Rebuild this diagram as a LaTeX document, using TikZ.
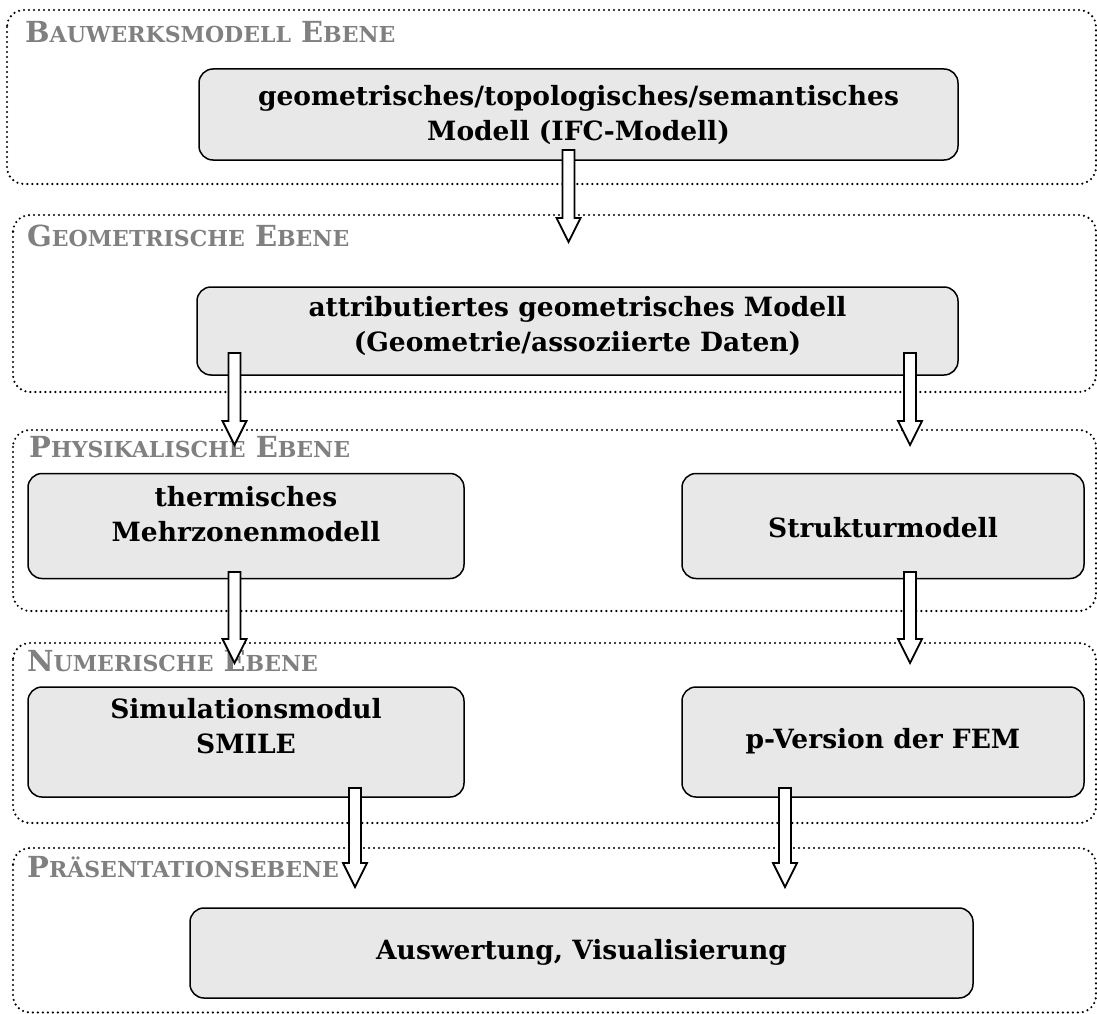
\documentclass[tikz,border=0pt]{standalone}
\usepackage{fontspec}
\setmainfont{DejaVu Serif}
\usetikzlibrary{calc}
\definecolor{boxfill}{HTML}{E8E8E8}
\definecolor{labelgray}{HTML}{808080}
\tikzset{
  layer/.style={draw, line width=2.4pt, dash pattern=on 0pt off 5pt, line cap=round, rounded corners=17pt},
  model/.style={draw, line width=1.5pt, fill=boxfill, rounded corners=14pt, inner sep=0pt},
  modeltext/.style={font=\fontsize{26.5}{35}\selectfont\bfseries, align=center, inner sep=0pt},
  layertitle/.style={font=\fontsize{29}{32}\selectfont\bfseries, text=labelgray, anchor=base west, inner sep=0pt},
  blockarrow/.style={draw, fill=white, line width=1.8pt, line join=miter},
}
% lower-size capitals for the layer titles
\newcommand{\lowcaps}[1]{{\fontsize{22}{24}\selectfont #1}}
% hollow block arrow from #1 (tail) down to #2 (tip)
\newcommand{\flowarrow}[2]{%
  \draw[blockarrow] let \p1=(#1), \p2=(#2) in
    (\x1-6pt,\y1) -- (\x1-6pt,\y2+24pt) -- (\x1-12pt,\y2+24pt) -- (\x1,\y2)
    -- (\x1+12pt,\y2+24pt) -- (\x1+6pt,\y2+24pt) -- (\x1+6pt,\y1) -- cycle;}
\begin{document}
\begin{tikzpicture}[x=1pt,y=-1pt]
\useasboundingbox (0,0) rectangle (1097,1014);
\clip (0,0) rectangle (1097,1014);

% layers
\draw[layer] (7,10) rectangle (1096,184);
\draw[layer] (13,215) rectangle (1096,392);
\draw[layer] (13,430) rectangle (1096,611);
\draw[layer] (13,643) rectangle (1096,823);
\draw[layer] (13,848) rectangle (1096,1012.5);

\node[layertitle] (l1) at (25,43) {B\lowcaps{AUWERKSMODELL} E\lowcaps{BENE}};
\node[layertitle] (l2) at (27,246) {G\lowcaps{EOMETRISCHE} E\lowcaps{BENE}};
\node[layertitle] (l3) at (29,457) {P\lowcaps{HYSIKALISCHE} E\lowcaps{BENE}};
\node[layertitle] (l4) at (27,671) {N\lowcaps{UMERISCHE} E\lowcaps{BENE}};
\node[layertitle] (l5) at (27,877) {P\lowcaps{RÄSENTATIONSEBENE}};

% models
\node[model, minimum width=759pt, minimum height=91pt] (b1) at (578.5,114.5) {};
\node[model, minimum width=761pt, minimum height=88pt] (b2) at (577.5,331) {};
\node[model, minimum width=436pt, minimum height=105pt] (b3) at (246,526) {};
\node[model, minimum width=402pt, minimum height=105pt] (b4) at (883,526) {};
\node[model, minimum width=436pt, minimum height=110pt] (b5) at (246,742) {};
\node[model, minimum width=402pt, minimum height=110pt] (b6) at (883,742) {};
\node[model, minimum width=783pt, minimum height=90pt] (b7) at (581.5,953) {};

\node[modeltext] (t1) at (578.5,115) {geometrisches/topologisches/semantisches\\Modell (IFC-Modell)};
\node[modeltext] (t2) at (577.5,326) {attributiertes geometrisches Modell\\(Geometrie/assoziierte Daten)};
\node[modeltext] (t3) at (246,514) {thermisches\\Mehrzonenmodell};
\node[modeltext] (t4) at (883,528) {Strukturmodell};
\node[modeltext] (t5) at (246,726) {Simulationsmodul\\SMILE};
\node[modeltext] (t6) at (883,741) {p-Version der FEM};
\node[modeltext] (t7) at (581.5,952) {Auswertung, Visualisierung};

% arrow ends
\coordinate (a1s) at (568.5,150); \coordinate (a1e) at (568.5,242);
\coordinate (a2s) at (234.5,353); \coordinate (a2e) at (234.5,445);
\coordinate (a3s) at (910,353);   \coordinate (a3e) at (910,445);
\coordinate (a4s) at (234.5,572); \coordinate (a4e) at (234.5,663);
\coordinate (a5s) at (910,572);   \coordinate (a5e) at (910,663);
\coordinate (a6s) at (355,788);   \coordinate (a6e) at (355,887);
\coordinate (a7s) at (785,788);   \coordinate (a7e) at (785,887);

\flowarrow{a1s}{a1e}
\flowarrow{a2s}{a2e}
\flowarrow{a3s}{a3e}
\flowarrow{a4s}{a4e}
\flowarrow{a5s}{a5e}
\flowarrow{a6s}{a6e}
\flowarrow{a7s}{a7e}
\end{tikzpicture}
\end{document}
